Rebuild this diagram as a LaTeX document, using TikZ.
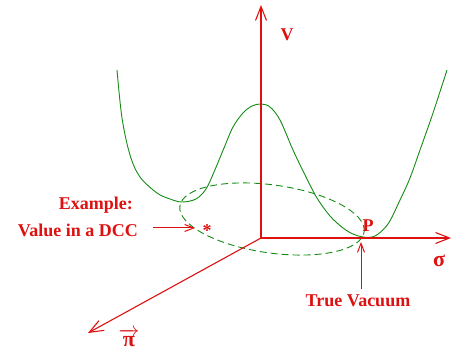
\documentclass[tikz,border=0pt]{standalone}
\usepackage{fontspec}
\setmainfont{Liberation Serif}
\usetikzlibrary{arrows.meta}
\definecolor{axred}{RGB}{222,16,16}
\definecolor{potgreen}{RGB}{20,140,20}
\tikzset{
  axis/.style={axred, line width=1.1pt, -{Straight Barb[length=14pt,width=11pt,line width=1.1pt]}},
  pointer/.style={axred, line width=1pt, -{Straight Barb[length=9pt,width=7pt,line width=1pt]}},
  lbl/.style={text=axred, font=\fontsize{18}{20}\selectfont\bfseries, inner sep=0pt},
  greek/.style={text=axred, font=\fontsize{22}{24}\selectfont\bfseries, inner sep=0pt},
  pot/.style={potgreen, line width=0.9pt},
  orbit/.style={potgreen, line width=0.9pt, dash pattern=on 7pt off 4pt}
}
\begin{document}
\begin{tikzpicture}[x=1pt,y=-1pt]
\useasboundingbox (0,0) rectangle (452,352);
% origin and axis tips
\coordinate (O) at (261,238);
\coordinate (Vtip) at (261,5);
\coordinate (Stip) at (451,238);
\coordinate (Ptip) at (88,333);
% dashed vacuum orbit
\begin{scope}[shift={(272,219)}, rotate=-8]
  \draw[orbit] (0,0) ellipse [x radius=93pt, y radius=34pt];
\end{scope}
% potential curve
\draw[pot] plot[smooth, tension=0.55] coordinates {
 (117,70) (122,118) (130,155) (140,177) (157,193) (170,199) (182,202) (196,199)
 (206,189) (214,172) (224,148) (233,127) (243,113) (252,106) (261,104) (270,107)
 (280,120) (293,150) (305,175) (317,198) (330,216) (343,228) (353,234) (363,237)
 (375,236) (388,224) (400,200) (410,178) (420,150) (433,113) (447,70)};
% axes
\draw[axis] (O) -- (Vtip);
\draw[axis] (O) -- (Stip);
\draw[axis] (O) -- (Ptip);
% axis labels
\node[lbl, anchor=base] (V) at (287,41) {V};
\node[greek, anchor=base] (sigma) at (439,267) {σ};
\node[greek, anchor=base] (pi) at (129,346) {$\overrightarrow{\hbox{π}}$};
% example annotation
\node[lbl, anchor=base east] (ex) at (133,210) {Example:};
\node[lbl, anchor=base east] (dcc) at (138,237) {Value in a DCC};
\node[lbl, anchor=base] (star) at (207,237) {*};
\coordinate (exarrow) at (195,228);
\draw[pointer] (dcc.east |- exarrow) ++(15,0) coordinate (exstart) -- (exarrow);
% true vacuum
\node[lbl, anchor=base] (P) at (368,232) {P};
\node[lbl, anchor=base] (tv) at (358,306) {True Vacuum};
\coordinate (tvtip) at (361,242);
\draw[pointer] (tv.north -| tvtip) ++(0,-5) -- (tvtip);
\end{tikzpicture}
\end{document}
